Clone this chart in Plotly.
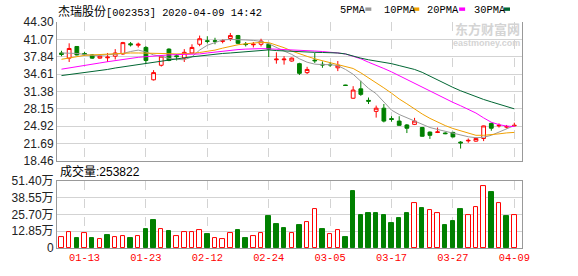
import plotly.graph_objects as go

# ---------------- data ----------------
dates = ["2020-01-08", "2020-01-09", "2020-01-10", "2020-01-13", "2020-01-14", "2020-01-15",
         "2020-01-16", "2020-01-17", "2020-01-20", "2020-01-21", "2020-01-22", "2020-01-23",
         "2020-02-03", "2020-02-04", "2020-02-05", "2020-02-06", "2020-02-07", "2020-02-10",
         "2020-02-11", "2020-02-12", "2020-02-13", "2020-02-14", "2020-02-17", "2020-02-18",
         "2020-02-19", "2020-02-20", "2020-02-21", "2020-02-24", "2020-02-25", "2020-02-26",
         "2020-02-27", "2020-02-28", "2020-03-02", "2020-03-03", "2020-03-04", "2020-03-05",
         "2020-03-06", "2020-03-09", "2020-03-10", "2020-03-11", "2020-03-12", "2020-03-13",
         "2020-03-16", "2020-03-17", "2020-03-18", "2020-03-19", "2020-03-20", "2020-03-23",
         "2020-03-24", "2020-03-25", "2020-03-26", "2020-03-27", "2020-03-30", "2020-03-31",
         "2020-04-01", "2020-04-02", "2020-04-03", "2020-04-07", "2020-04-08", "2020-04-09"]

open_p = [38.53, 37.57, 39.74, 38.44, 38.17, 37.57, 37.63, 37.93, 38.35, 40.24, 39.97, 39.56,
          33.53, 36.24, 39.25, 38.00, 37.57, 38.53, 40.15, 40.80, 40.80, 40.70, 41.23, 41.77,
          40.20, 40.06, 40.15, 40.15, 37.26, 37.26, 37.03, 36.54, 34.87, 37.20, 36.42, 36.40,
          35.77, 32.55, 30.10, 31.85, 29.70, 27.65, 28.24, 26.30, 25.84, 25.12, 25.23, 24.64,
          23.79, 23.72, 23.62, 23.73, 21.93, 22.15, 22.11, 22.60, 25.41, 24.95, 24.72, 24.95]
high_p = [38.94, 40.33, 39.79, 38.76, 38.30, 38.08, 38.53, 39.25, 40.60, 40.57, 40.46, 39.80,
          35.33, 38.10, 39.40, 38.35, 39.25, 40.15, 41.77, 41.65, 41.36, 41.05, 42.26, 41.90,
          40.57, 40.57, 41.18, 40.30, 38.65, 37.93, 37.70, 36.70, 35.95, 38.53, 36.96, 36.85,
          37.03, 32.60, 32.34, 33.35, 30.23, 28.73, 29.02, 26.75, 26.75, 25.30, 26.44, 24.75,
          23.90, 24.64, 23.75, 23.85, 22.11, 22.60, 22.83, 25.00, 25.55, 25.41, 25.12, 25.54]
low_p = [37.93, 36.85, 38.08, 38.04, 37.45, 37.45, 36.85, 37.32, 38.20, 39.74, 39.56, 36.54,
         33.40, 36.00, 37.00, 37.14, 36.85, 38.40, 39.79, 40.33, 40.15, 40.33, 40.75, 40.20,
         39.74, 39.56, 39.74, 37.75, 36.54, 36.36, 36.90, 34.43, 34.61, 36.67, 35.77, 35.95,
         35.15, 32.40, 30.00, 30.54, 29.02, 26.49, 25.60, 25.72, 25.00, 23.61, 25.10, 22.95,
         22.52, 23.61, 23.40, 22.80, 20.72, 21.80, 22.00, 22.11, 24.04, 24.64, 24.46, 24.87]
close_p = [38.26, 39.37, 38.17, 38.30, 37.57, 37.93, 37.75, 38.53, 40.46, 40.06, 40.15, 37.14,
           34.87, 37.93, 37.14, 37.85, 38.65, 39.56, 41.18, 40.70, 40.72, 40.80, 41.77, 40.33,
           40.10, 40.15, 40.75, 39.25, 37.38, 37.38, 37.57, 34.74, 35.46, 37.08, 36.30, 36.32,
           36.24, 32.48, 31.62, 30.82, 29.55, 28.24, 25.84, 26.15, 25.05, 24.51, 25.84, 23.01,
           23.19, 23.82, 23.50, 22.89, 21.78, 22.25, 22.60, 24.94, 24.51, 25.05, 24.80, 25.05]

ma5 = [38.53, 38.53, 38.44, 38.26, 38.08, 38.08, 38.17, 38.26, 38.44, 38.80, 39.07, 38.71,
       38.17, 37.90, 37.53, 37.35, 37.26, 37.81, 39.07, 39.97, 40.42, 40.96, 41.05, 41.05,
       40.96, 40.87, 40.69, 40.24, 39.52, 38.89, 38.26, 37.45, 36.81, 36.45, 36.36, 36.36,
       36.18, 35.46, 34.56, 33.30, 31.94, 30.95, 29.33, 27.88, 27.07, 26.44, 25.90, 25.18,
       24.64, 24.28, 23.92, 23.55, 23.19, 22.92, 22.74, 22.83, 23.19, 23.82, 24.46, 25.00]
ma10 = [37.35, 37.63, 37.90, 38.08, 38.17, 38.26, 38.35, 38.44, 38.53, 38.53, 38.53, 38.53,
        38.53, 38.47, 38.40, 38.35, 38.35, 38.44, 38.62, 38.80, 39.07, 39.43, 39.79, 40.06,
        40.24, 40.42, 40.51, 40.46, 40.06, 39.52, 38.89, 38.35, 37.90, 37.45, 37.08, 36.72,
        36.45, 36.09, 35.64, 34.83, 33.93, 33.03, 32.03, 31.04, 29.96, 29.06, 28.06, 27.16,
        26.35, 25.63, 25.00, 24.46, 24.00, 23.55, 23.19, 23.19, 23.28, 23.46, 23.64, 23.73]
ma20 = [35.51, 35.77, 36.00, 36.22, 36.43, 36.67, 36.90, 37.12, 37.35, 37.53, 37.72, 37.84,
        37.99, 38.08, 38.17, 38.22, 38.26, 38.31, 38.35, 38.53, 38.71, 38.89, 39.03, 39.16,
        39.25, 39.34, 39.34, 39.30, 39.25, 39.16, 39.07, 39.01, 38.94, 38.89, 38.80, 38.71,
        38.53, 38.35, 37.90, 37.45, 36.81, 36.27, 35.64, 35.01, 34.29, 33.57, 32.84, 32.12,
        31.40, 30.68, 29.96, 29.33, 28.70, 28.06, 27.34, 26.44, 25.63, 25.18, 24.91, 24.82]
ma30 = [34.32, 34.50, 34.68, 34.87, 35.05, 35.24, 35.46, 35.73, 35.95, 36.18, 36.40, 36.63,
        36.87, 37.08, 37.26, 37.43, 37.63, 37.81, 37.99, 38.17, 38.31, 38.44, 38.53, 38.67,
        38.80, 38.89, 39.01, 39.10, 38.98, 38.89, 38.80, 38.76, 38.71, 38.65, 38.62, 38.58,
        38.53, 38.35, 37.90, 37.57, 37.26, 37.03, 36.81, 36.54, 36.18, 35.82, 35.46, 34.92,
        34.20, 33.48, 32.75, 32.12, 31.49, 30.95, 30.32, 29.87, 29.42, 28.97, 28.52, 28.12]

# volume in 万 (10k shares)
volume = [8.2, 12.4, 7.4, 11.7, 7.4, 6.5, 9.9, 8.2, 9.4, 7.4, 8.9, 14.9,
          21.6, 14.9, 12.9, 8.9, 12.4, 12.4, 13.6, 10.4, 7.4, 6.5, 11.7, 14.1,
          7.4, 8.9, 11.7, 24.8, 18.6, 15.6, 11.7, 17.9, 19.9, 29.8, 14.9, 10.4,
          14.1, 8.2, 43.4, 25.3, 26.8, 26.8, 25.3, 19.4, 23.1, 26.8, 34.8, 30.5,
          29.0, 26.6, 17.9, 20.8, 29.8, 25.3, 31.3, 47.7, 43.2, 34.8, 24.8, 25.38]
volume_up = [1, 1, 0, 1, 0, 1, 0, 1, 1, 0, 1, 0,
             0, 1, 0, 1, 1, 1, 1, 0, 1, 1, 1, 0,
             0, 1, 1, 0, 0, 0, 1, 0, 1, 1, 0, 1,
             1, 0, 0, 0, 0, 0, 0, 0, 0, 0, 1, 0,
             1, 1, 0, 0, 0, 1, 1, 1, 0, 1, 0, 1]

tick_dates = ["2020-01-13", "2020-01-23", "2020-02-12", "2020-02-24",
              "2020-03-05", "2020-03-17", "2020-03-27", "2020-04-09"]
tick_labels = ["01-13", "01-23", "02-12", "02-24", "03-05", "03-17", "03-27", "04-09"]
price_ticks = [18.46, 21.69, 24.92, 28.15, 31.38, 34.61, 37.84, 41.07, 44.30]
price_tick_labels = ["18.46", "21.69", "24.92", "28.15", "31.38", "34.61", "37.84", "41.07", "44.30"]
vol_ticks = [0, 12.85, 25.70, 38.55, 51.40]
vol_tick_labels = ["0", "12.85万", "25.70万", "38.55万", "51.40万"]

title_name = "杰瑞股份"
title_rest = "[002353] 2020-04-09 14:42"
vol_title = "成交量:253822"
ma_names = ["5PMA", "10PMA", "20PMA", "30PMA"]

# ---------------- styles ----------------
RED = "#ff0000"
GREEN = "#008000"
MA_COLORS = ["#999999", "#f0a000", "#ff00ff", "#006633"]
GRID = "#d3d3d3"
BORDER = "#999999"
W, H = 578, 276
ML, MR, MT, MB = 56, 56, 22, 21
PW, PH = W - ML - MR, H - MT - MB


def px_x(x):
    return (x - ML) / PW


def px_y(y):
    return (H - MB - y) / PH


fig = go.Figure()

fig.add_trace(go.Candlestick(
    x=dates, open=open_p, high=high_p, low=low_p, close=close_p,
    increasing=dict(line=dict(color=RED, width=1), fillcolor="#ffffff"),
    decreasing=dict(line=dict(color=GREEN, width=1), fillcolor=GREEN),
    whiskerwidth=0, showlegend=False, hoverinfo="skip",
    xaxis="x", yaxis="y"))

for series, col in zip([ma5, ma10, ma20, ma30], MA_COLORS):
    fig.add_trace(go.Scatter(x=dates, y=series, mode="lines",
                             line=dict(color=col, width=1),
                             showlegend=False, hoverinfo="skip",
                             xaxis="x", yaxis="y"))

fig.add_trace(go.Bar(
    x=dates, y=volume, width=0.58,
    marker=dict(color=["#ffffff" if u else GREEN for u in volume_up],
                line=dict(color=[RED if u else GREEN for u in volume_up], width=1)),
    showlegend=False, hoverinfo="skip", xaxis="x2", yaxis="y2"))

tickfont = dict(family="Liberation Sans, Arial, Noto Sans CJK SC", size=12, color="#222222")
xrange = [-0.585, 60.0]

fig.update_layout(
    width=W, height=H, autosize=False,
    margin=dict(l=ML, r=MR, t=MT, b=MB, pad=0),
    paper_bgcolor="#ffffff", plot_bgcolor="#ffffff",
    showlegend=False,
    bargap=0,
    xaxis=dict(type="category", domain=[0, 1], anchor="y", range=xrange,
               rangeslider=dict(visible=False),
               tickvals=tick_dates, ticktext=tick_labels, showticklabels=False,
               showgrid=True, gridcolor=GRID, griddash="dash", gridwidth=1,
               showline=True, linecolor=BORDER, linewidth=1, mirror=False,
               ticks="", zeroline=False, fixedrange=True),
    yaxis=dict(domain=[px_y(165), 1], anchor="x", range=[18.46, 44.3005],
               tickvals=price_ticks, ticktext=price_tick_labels, tickfont=tickfont,
               showgrid=True, gridcolor=GRID, gridwidth=1,
               showline=True, linecolor=BORDER, linewidth=1, mirror=True,
               ticks="", zeroline=False),
    xaxis2=dict(type="category", domain=[0, 1], anchor="y2", matches="x", range=xrange,
                tickvals=tick_dates, ticktext=tick_labels,
                tickfont=dict(family="Liberation Mono, DejaVu Sans Mono", size=10.4, color=RED),
                showgrid=True, gridcolor=GRID, griddash="dash", gridwidth=1,
                showline=True, linecolor=BORDER, linewidth=1, mirror=True,
                ticks="", zeroline=False),
    yaxis2=dict(domain=[0, px_y(186)], anchor="x2", range=[0, 51.40],
                tickvals=vol_ticks, ticktext=vol_tick_labels, tickfont=tickfont,
                showgrid=True, gridcolor=GRID, gridwidth=1,
                showline=True, linecolor=BORDER, linewidth=1, mirror=True,
                ticks="", zeroline=False),
)

annotations = []
# title
annotations.append(dict(
    xref="paper", yref="paper", x=px_x(55), y=px_y(10), xanchor="left", yanchor="middle",
    showarrow=False,
    text='<span style="font-family:Noto Sans CJK SC;font-size:12px">' + title_name + '</span>' + title_rest,
    font=dict(family="Liberation Mono, DejaVu Sans Mono", size=10.4, color="#000000")))
# volume title
annotations.append(dict(
    xref="paper", yref="paper", x=px_x(57), y=px_y(176), xanchor="left", yanchor="middle",
    showarrow=False, text=vol_title,
    font=dict(family="Liberation Sans, Noto Sans CJK SC", size=12, color="#000000")))
# legend
legend_x = [338, 382, 425, 472]
marker_x = [365, 413, 459, 504]
shapes = []
for name, lx, mx, col in zip(ma_names, legend_x, marker_x, MA_COLORS):
    annotations.append(dict(
        xref="paper", yref="paper", x=px_x(lx), y=px_y(10), xanchor="left", yanchor="middle",
        showarrow=False, text=name,
        font=dict(family="Liberation Mono, DejaVu Sans Mono", size=10.4, color="#000000")))
    shapes.append(dict(type="rect", xref="paper", yref="paper",
                       x0=px_x(mx), x1=px_x(mx + 6), y0=px_y(10.5), y1=px_y(7),
                       fillcolor=col, line=dict(width=0)))
# watermark
annotations.append(dict(
    xref="paper", yref="paper", x=px_x(487), y=px_y(29), xanchor="center", yanchor="middle",
    showarrow=False, text="<b>东方财富网</b>", borderpad=0,
    font=dict(family="Noto Sans CJK SC", size=13, color="#d4d4d4")))
annotations.append(dict(
    xref="paper", yref="paper", x=px_x(486), y=px_y(43.5), xanchor="center", yanchor="middle",
    showarrow=False, text="<b>eastmoney.com</b>", borderpad=0,
    font=dict(family="Liberation Sans", size=9, color="#d4d4d4")))

fig.update_layout(annotations=annotations, shapes=shapes)

fig.write_html("out.html", config={"displayModeBar": False})
